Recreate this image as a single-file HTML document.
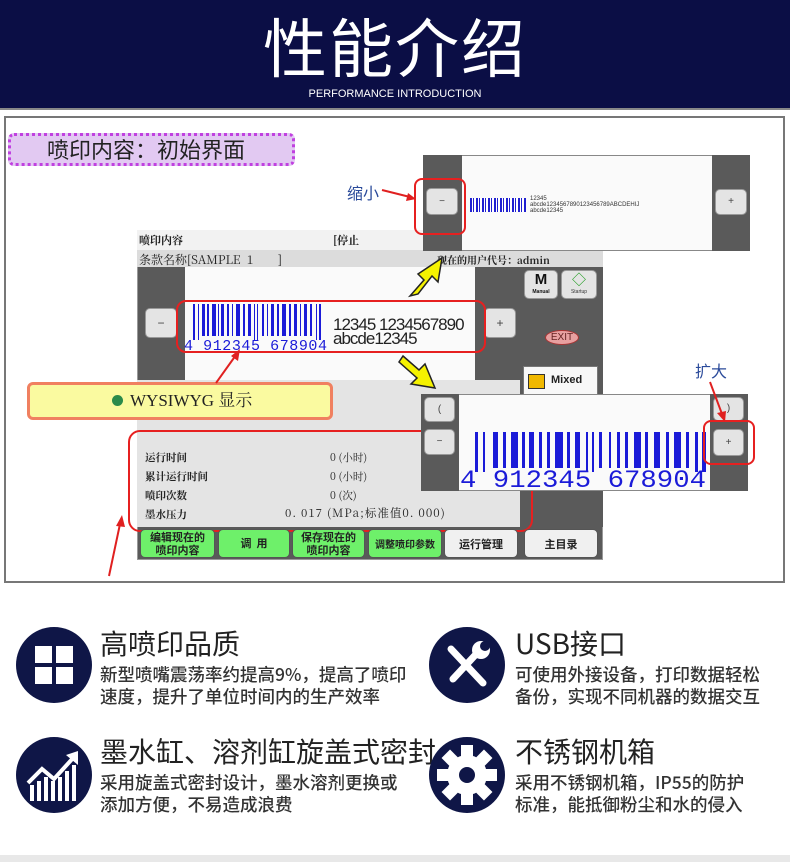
<!DOCTYPE html>
<html><head><meta charset="utf-8"><style>
*{margin:0;padding:0;box-sizing:border-box}
body{width:790px;height:862px;background:#fff;position:relative;overflow:hidden;font-family:"Liberation Sans","Noto Sans CJK SC",sans-serif}
.a{position:absolute}
.hd{left:0;top:0;width:790px;height:110px;background:#0b0e45;border-bottom:2px solid #888}
.t{color:#fff;font-size:64px;left:0;width:790px;text-align:center;top:8px;line-height:74px;letter-spacing:2px;font-family:"Noto Sans CJK SC",sans-serif;font-weight:400}
.st{color:#fff;font-size:11px;left:0;width:790px;text-align:center;top:88px}
.fr{left:4px;top:116px;width:781px;height:467px;border:2px solid #777;background:#fff}
.dg{background:#5a5a5a}
.lg{background:#e6e6e6}
.btn{background:#e4e4e4;border:1px solid #999;border-radius:5px;text-align:center;color:#444;font-size:12px}
.red{border:2px solid #e62020;border-radius:10px}
.s{font-family:"Noto Serif CJK SC","Noto Sans CJK SC",serif;font-weight:bold;font-size:11px;color:#222}
.gb{background:#6ef06a;border:1px solid #555;border-radius:5px;font-size:11px;text-align:center;line-height:13px;font-weight:bold;color:#222;font-family:"Noto Sans CJK SC",sans-serif}
.wb{background:#f0f0f0;border:1px solid #555;border-radius:5px;font-size:11px;text-align:center;line-height:28px;font-weight:bold;color:#222;font-family:"Noto Sans CJK SC",sans-serif}
.ic{width:76px;height:76px;border-radius:50%;background:#0f1647}
.h{font-size:28px;color:#222;font-family:"Noto Sans CJK SC",sans-serif;line-height:34px}
.d{font-size:17.5px;color:#333;font-family:"Noto Sans CJK SC",sans-serif;line-height:22px;font-weight:500;white-space:nowrap}
</style></head><body>
<div class="a hd"></div>
<div class="a t">性能介绍</div>
<div class="a st">PERFORMANCE INTRODUCTION</div>
<div class="a fr"></div>

<div class="a" style="left:8px;top:133px;width:287px;height:33px;background:#e2c9f2;border:3px dotted #c040e0;border-radius:6px;font-size:22px;line-height:27px;padding-left:36px;color:#222;font-family:'Noto Sans CJK SC',sans-serif">喷印内容：初始界面</div>

<div class="a" style="left:137px;top:230px;width:466px;height:330px;background:#5a5a5a;border:1px solid #999"></div>
<div class="a lg" style="left:137px;top:230px;width:466px;height:20px;background:#f2f2f2"></div>
<div class="a s" style="left:139px;top:232px">喷印内容</div>
<div class="a s" style="left:333px;top:232px">[停止</div>
<div class="a lg" style="left:137px;top:250px;width:466px;height:17px;background:#dcdcdc"></div>
<div class="a s" style="left:139px;top:251px;font-weight:normal;font-size:12px">条款名称[SAMPLE&nbsp;&nbsp;1&nbsp;&nbsp;&nbsp;&nbsp;&nbsp;&nbsp;&nbsp;&nbsp;]</div>
<div class="a s" style="left:437px;top:252px;font-size:10px">现在的用户代号：admin</div>
<div class="a dg" style="left:140px;top:267px;width:45px;height:153px"></div>
<div class="a" style="left:185px;top:267px;width:290px;height:113px;background:#fafafa"></div>
<div class="a dg" style="left:475px;top:267px;width:45px;height:113px"></div>
<div class="a btn" style="left:145px;top:308px;width:32px;height:30px;line-height:28px">−</div>
<div class="a btn" style="left:484px;top:308px;width:32px;height:30px;line-height:28px">+</div>
<svg class="a" style="left:183px;top:304px" width="150" height="50">
<g fill="#1b1bd8">
<rect x="10" y="0" width="2" height="36"/><rect x="15" y="0" width="1" height="36"/><rect x="19" y="0" width="3" height="32"/><rect x="24" y="0" width="2" height="32"/><rect x="29" y="0" width="4" height="32"/><rect x="35" y="0" width="1" height="32"/><rect x="38" y="0" width="3" height="32"/><rect x="44" y="0" width="2" height="32"/><rect x="49" y="0" width="1" height="32"/><rect x="53" y="0" width="4" height="32"/><rect x="60" y="0" width="2" height="32"/><rect x="65" y="0" width="3" height="32"/><rect x="71" y="0" width="1" height="36"/><rect x="74" y="0" width="1" height="36"/><rect x="79" y="0" width="2" height="32"/><rect x="84" y="0" width="1" height="32"/><rect x="88" y="0" width="3" height="32"/><rect x="94" y="0" width="2" height="32"/><rect x="99" y="0" width="4" height="32"/><rect x="106" y="0" width="2" height="32"/><rect x="111" y="0" width="3" height="32"/><rect x="117" y="0" width="1" height="32"/><rect x="121" y="0" width="3" height="32"/><rect x="127" y="0" width="2" height="32"/><rect x="133" y="0" width="1" height="36"/><rect x="136" y="0" width="2" height="36"/>
</g>
<text x="1" y="46" font-size="15" fill="#1b1bd8" font-family="Liberation Mono" textLength="143">4 912345 678904</text>
</svg>
<div class="a" style="left:333px;top:318px;font-size:17px;line-height:14px;color:#222;font-family:'Liberation Sans Narrow','Liberation Sans',sans-serif;letter-spacing:-1px">12345 1234567890<br>abcde12345</div>
<div class="a red" style="left:176px;top:300px;width:310px;height:53px"></div>

<div class="a dg" style="left:520px;top:267px;width:83px;height:260px"></div>
<div class="a btn" style="left:524px;top:270px;width:34px;height:29px;font-size:15px;line-height:18px;font-weight:bold;color:#111">M<div style="font-size:5px;line-height:6px">Manual</div></div>
<div class="a btn" style="left:561px;top:270px;width:36px;height:29px;font-size:14px;line-height:18px;color:#1a9a1a">◇<div style="font-size:5px;line-height:6px;color:#333">Startup</div></div>
<div class="a" style="left:545px;top:330px;width:34px;height:15px;border-radius:50%;background:#e8a0a0;border:1px solid #a33;font-size:10px;text-align:center;line-height:13px;color:#622">EXIT</div>
<div class="a" style="left:523px;top:366px;width:75px;height:30px;background:#f8f8f8;border:1px solid #777"><div class="a" style="left:4px;top:7px;width:17px;height:15px;background:#f0b800;border:1px solid #333"></div><div class="a" style="left:27px;top:7px;font-size:11px;font-weight:bold;color:#222">Mixed</div></div>

<div class="a lg" style="left:137px;top:380px;width:383px;height:147px;background:#e4e4e4"></div>
<div class="a s" style="left:145px;top:448px;line-height:19px;font-size:10.5px">运行时间<br>累计运行时间<br>喷印次数<br>墨水压力</div>
<div class="a s" style="left:330px;top:448px;line-height:19px;font-size:10.5px;font-weight:normal">0 (小时)<br>0 (小时)<br>0 (次)</div>
<div class="a s" style="left:285px;top:505px;font-size:11.5px;font-weight:normal;letter-spacing:1px">0. 017 (MPa;标准值0. 000)</div>
<div class="a red" style="left:128px;top:430px;width:405px;height:102px;border-radius:12px"></div>
<div class="a gb" style="left:140px;top:529px;width:75px;height:29px;padding-top:1px">编辑现在的<br>喷印内容</div>
<div class="a gb" style="left:218px;top:529px;width:72px;height:29px;line-height:27px">调&nbsp;&nbsp;用</div>
<div class="a gb" style="left:292px;top:529px;width:73px;height:29px;padding-top:1px">保存现在的<br>喷印内容</div>
<div class="a gb" style="left:368px;top:529px;width:74px;height:29px;line-height:27px;font-size:10px">调整喷印参数</div>
<div class="a wb" style="left:444px;top:529px;width:74px;height:29px">运行管理</div>
<div class="a wb" style="left:524px;top:529px;width:74px;height:29px">主目录</div>

<div class="a" style="left:27px;top:382px;width:306px;height:38px;background:#fafaa0;border:3px solid #f08060;border-radius:6px;font-size:17px;line-height:32px;padding-left:100px;color:#222;font-family:'Liberation Serif','Noto Serif CJK SC',serif"><span style="position:absolute;left:82px;top:10px;width:11px;height:11px;border-radius:50%;background:#2a8a4a"></span>WYSIWYG 显示</div>

<div class="a" style="left:423px;top:155px;width:327px;height:96px;background:#fafafa;border:1px solid #888"></div>
<div class="a dg" style="left:423px;top:155px;width:39px;height:96px"></div>
<div class="a dg" style="left:712px;top:155px;width:38px;height:96px"></div>
<div class="a btn" style="left:426px;top:188px;width:32px;height:27px;line-height:25px;font-size:10px">−</div>
<div class="a btn" style="left:715px;top:189px;width:32px;height:26px;line-height:24px;font-size:10px">+</div>
<div class="a" style="left:470px;top:198px;width:56px;height:14px;background:repeating-linear-gradient(90deg,#2020d0 0 2px,#fff 2px 3px,#2020d0 3px 4px,#fff 4px 6px)"></div>
<div class="a" style="left:530px;top:196px;font-size:6px;line-height:6px;color:#333">12345<br>abcde1234567890123456789ABCDEHIJ<br>abcde12345</div>
<div class="a red" style="left:414px;top:178px;width:52px;height:57px;border-radius:8px"></div>
<div class="a" style="left:347px;top:180px;font-size:16px;color:#2a4a9a;font-family:'Noto Sans CJK SC',sans-serif">缩小</div>
<svg class="a" style="left:380px;top:185px" width="40" height="20"><line x1="2" y1="5" x2="30" y2="12" stroke="#e02020" stroke-width="2"/><polygon points="36,14 26,16 28,8" fill="#e02020"/></svg>

<svg class="a" style="left:400px;top:252px" width="50" height="50"><polygon points="10,44 24,28 18,22 42,6 38,30 32,24 18,42" fill="#f5f200" stroke="#222" stroke-width="1.5"/></svg>
<svg class="a" style="left:395px;top:350px" width="50" height="45"><polygon points="8,6 24,20 30,14 40,38 16,34 22,28 4,12" fill="#f5f200" stroke="#222" stroke-width="1.5"/></svg>

<div class="a" style="left:421px;top:394px;width:327px;height:97px;background:#fafafa;border:1px solid #888"></div>
<div class="a dg" style="left:421px;top:394px;width:38px;height:97px"></div>
<div class="a dg" style="left:710px;top:394px;width:38px;height:97px"></div>
<div class="a btn" style="left:424px;top:397px;width:31px;height:25px;line-height:23px;font-size:10px">(</div>
<div class="a btn" style="left:424px;top:429px;width:31px;height:26px;line-height:24px;font-size:10px">−</div>
<div class="a btn" style="left:713px;top:397px;width:31px;height:24px;line-height:22px;font-size:10px">)</div>
<div class="a btn" style="left:713px;top:429px;width:31px;height:27px;line-height:25px;font-size:10px">+</div>
<svg class="a" style="left:459px;top:428px" width="251" height="62">
<g fill="#1b1bd8">
<rect x="16" y="4" width="3" height="40"/><rect x="24" y="4" width="2" height="40"/><rect x="34" y="4" width="5" height="36"/><rect x="44" y="4" width="3" height="36"/><rect x="52" y="4" width="7" height="36"/><rect x="63" y="4" width="3" height="36"/><rect x="70" y="4" width="5" height="36"/><rect x="80" y="4" width="3" height="36"/><rect x="88" y="4" width="3" height="36"/><rect x="96" y="4" width="8" height="36"/><rect x="108" y="4" width="3" height="36"/><rect x="116" y="4" width="5" height="36"/><rect x="127" y="4" width="2" height="40"/><rect x="133" y="4" width="2" height="40"/><rect x="140" y="4" width="3" height="36"/><rect x="150" y="4" width="2" height="36"/><rect x="158" y="4" width="3" height="36"/><rect x="166" y="4" width="3" height="36"/><rect x="175" y="4" width="7" height="36"/><rect x="186" y="4" width="3" height="36"/><rect x="195" y="4" width="6" height="36"/><rect x="207" y="4" width="3" height="36"/><rect x="215" y="4" width="7" height="36"/><rect x="227" y="4" width="3" height="36"/><rect x="236" y="4" width="3" height="40"/><rect x="243" y="4" width="4" height="40"/>
</g>
<text x="1" y="59" font-size="25" fill="#1b1bd8" font-family="Liberation Mono" textLength="246" lengthAdjust="spacingAndGlyphs">4 912345 678904</text>
</svg>
<div class="a red" style="left:703px;top:420px;width:52px;height:45px;border-radius:8px"></div>
<div class="a" style="left:695px;top:358px;font-size:16px;color:#2a4a9a;font-family:'Noto Sans CJK SC',sans-serif">扩大</div>
<svg class="a" style="left:705px;top:380px" width="30" height="45"><line x1="5" y1="2" x2="17" y2="34" stroke="#e02020" stroke-width="2"/><polygon points="20,42 12,33 21,31" fill="#e02020"/></svg>
<svg class="a" style="left:210px;top:345px" width="40" height="40"><line x1="6" y1="38" x2="26" y2="10" stroke="#e02020" stroke-width="2"/><polygon points="30,4 28,16 21,11" fill="#e02020"/></svg>
<svg class="a" style="left:105px;top:512px" width="25" height="65"><line x1="4" y1="64" x2="15" y2="12" stroke="#e02020" stroke-width="2"/><polygon points="17,3 20,15 11,14" fill="#e02020"/></svg>

<div class="a ic" style="left:16px;top:627px"><div class="a" style="left:19px;top:19px;width:38px;height:38px;background:repeating-linear-gradient(90deg,#fff 0 17px,transparent 17px 21px),#0f1647"></div><div class="a" style="left:19px;top:36px;width:38px;height:4px;background:#0f1647"></div></div>
<div class="a h" style="left:100px;top:626px">高喷印品质</div>
<div class="a d" style="left:100px;top:664px">新型喷嘴震荡率约提高9%，提高了喷印<br>速度，提升了单位时间内的生产效率</div>

<div class="a ic" style="left:429px;top:627px"><svg width="76" height="76"><g stroke="#fff" stroke-width="7" stroke-linecap="round"><line x1="22" y1="22" x2="54" y2="56"/><line x1="50" y1="24" x2="24" y2="52"/></g><circle cx="52" cy="23" r="9" fill="#fff"/><circle cx="56" cy="19" r="5" fill="#0f1647"/></svg></div>
<div class="a h" style="left:515px;top:626px">USB接口</div>
<div class="a d" style="left:515px;top:664px">可使用外接设备，打印数据轻松<br>备份，实现不同机器的数据交互</div>

<div class="a ic" style="left:16px;top:737px"><svg width="76" height="76"><g fill="#fff"><rect x="14" y="48" width="4" height="16"/><rect x="21" y="44" width="4" height="20"/><rect x="28" y="40" width="4" height="24"/><rect x="35" y="44" width="4" height="20"/><rect x="42" y="40" width="4" height="24"/><rect x="49" y="34" width="4" height="30"/><rect x="56" y="28" width="4" height="36"/></g><polyline points="12,46 26,32 38,42 58,20" fill="none" stroke="#fff" stroke-width="4"/><polygon points="62,14 62,28 50,18" fill="#fff"/></svg></div>
<div class="a h" style="left:100px;top:734px">墨水缸、溶剂缸旋盖式密封</div>
<div class="a d" style="left:100px;top:772px">采用旋盖式密封设计，墨水溶剂更换或<br>添加方便，不易造成浪费</div>

<div class="a ic" style="left:429px;top:737px"><svg width="76" height="76"><g fill="#fff" transform="translate(38,38)"><circle r="20"/><rect x="-6" y="-30" width="12" height="60"/><rect x="-6" y="-30" width="12" height="60" transform="rotate(45)"/><rect x="-6" y="-30" width="12" height="60" transform="rotate(90)"/><rect x="-6" y="-30" width="12" height="60" transform="rotate(135)"/><circle r="8" fill="#0f1647"/></g></svg></div>
<div class="a h" style="left:515px;top:734px">不锈钢机箱</div>
<div class="a d" style="left:515px;top:772px">采用不锈钢机箱，IP55的防护<br>标准，能抵御粉尘和水的侵入</div>

<div class="a" style="left:0;top:855px;width:790px;height:7px;background:#e8e8e8"></div>
</body></html>
